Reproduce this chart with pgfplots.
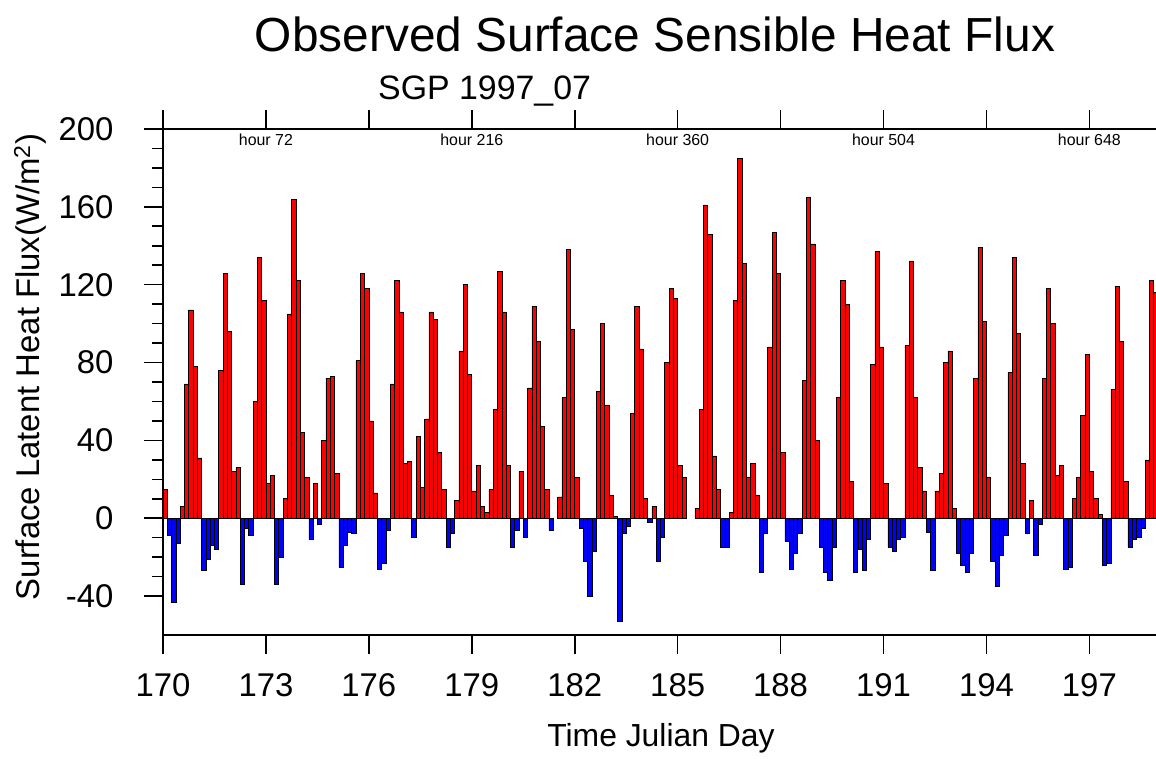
\documentclass[border=0pt]{standalone}
\usepackage{pgfplots}
\usepackage{pgfplotstable}
\pgfplotsset{compat=1.18}
\usepackage{fontspec}
\setmainfont{Liberation Sans}

% k = 3-hourly index from Julian day 170 hour 0, v = flux (W/m2)
\pgfplotstableread[row sep=\\]{
k v\\
0 15\\ 1 -9\\ 2 -43\\ 3 -13\\ 4 6\\ 5 69\\ 6 107\\ 7 78\\
8 31\\ 9 -27\\ 10 -21\\ 11 -14\\ 12 -16\\ 13 76\\ 14 126\\ 15 96\\
16 24\\ 17 26\\ 18 -34\\ 19 -5\\ 20 -9\\ 21 60\\ 22 134\\ 23 112\\
24 18\\ 25 22\\ 26 -34\\ 27 -20\\ 28 10\\ 29 105\\ 30 164\\ 31 122\\
32 44\\ 33 21\\ 34 -11\\ 35 18\\ 36 -3\\ 37 40\\ 38 72\\ 39 73\\
40 23\\ 41 -25\\ 42 -14\\ 43 -7\\ 44 -8\\ 45 81\\ 46 126\\ 47 118\\
48 50\\ 49 13\\ 50 -26\\ 51 -23\\ 52 -6\\ 53 69\\ 54 122\\ 55 106\\
56 28\\ 57 29\\ 58 -10\\ 59 42\\ 60 16\\ 61 51\\ 62 106\\ 63 102\\
64 34\\ 65 15\\ 66 -15\\ 67 -8\\ 68 9\\ 69 86\\ 70 120\\ 71 74\\
72 14\\ 73 27\\ 74 6\\ 75 3\\ 76 15\\ 77 56\\ 78 127\\ 79 106\\
80 27\\ 81 -15\\ 82 -6\\ 83 24\\ 84 -10\\ 85 67\\ 86 109\\ 87 91\\
88 47\\ 89 15\\ 90 -6\\ 91 0\\ 92 11\\ 93 62\\ 94 138\\ 95 97\\
96 21\\ 97 -5\\ 98 -22\\ 99 -40\\ 100 -17\\ 101 65\\ 102 100\\ 103 58\\
104 12\\ 105 1\\ 106 -53\\ 107 -8\\ 108 -4\\ 109 54\\ 110 109\\ 111 87\\
112 10\\ 113 -2\\ 114 6\\ 115 -22\\ 116 -10\\ 117 80\\ 118 118\\ 119 113\\
120 27\\ 121 21\\ 122 0\\ 123 0\\ 124 5\\ 125 56\\ 126 161\\ 127 146\\
128 32\\ 129 15\\ 130 -15\\ 131 -15\\ 132 3\\ 133 112\\ 134 185\\ 135 131\\
136 21\\ 137 28\\ 138 12\\ 139 -28\\ 140 -8\\ 141 88\\ 142 147\\ 143 126\\
144 34\\ 145 -12\\ 146 -26\\ 147 -18\\ 148 -8\\ 149 71\\ 150 165\\ 151 141\\
152 40\\ 153 -15\\ 154 -28\\ 155 -32\\ 156 -15\\ 157 62\\ 158 122\\ 159 110\\
160 19\\ 161 -28\\ 162 -16\\ 163 -27\\ 164 -11\\ 165 79\\ 166 137\\ 167 88\\
168 18\\ 169 -15\\ 170 -17\\ 171 -11\\ 172 -10\\ 173 89\\ 174 132\\ 175 62\\
176 26\\ 177 14\\ 178 -7\\ 179 -27\\ 180 14\\ 181 23\\ 182 80\\ 183 86\\
184 5\\ 185 -18\\ 186 -24\\ 187 -28\\ 188 -18\\ 189 72\\ 190 139\\ 191 101\\
192 21\\ 193 -22\\ 194 -35\\ 195 -19\\ 196 -9\\ 197 75\\ 198 134\\ 199 95\\
200 28\\ 201 -8\\ 202 9\\ 203 -19\\ 204 -3\\ 205 72\\ 206 118\\ 207 100\\
208 22\\ 209 27\\ 210 -26\\ 211 -25\\ 212 10\\ 213 21\\ 214 53\\ 215 84\\
216 24\\ 217 10\\ 218 2\\ 219 -24\\ 220 -23\\ 221 66\\ 222 119\\ 223 91\\
224 19\\ 225 -15\\ 226 -11\\ 227 -10\\ 228 -5\\ 229 30\\ 230 122\\ 231 116\\
}\flux

\begin{document}
\begin{tikzpicture}[x=1bp,y=1bp]
\path[use as bounding box] (-163,-124) rectangle (993,635);
\begin{axis}[
  at={(0,0)}, anchor=south west,
  scale only axis, width=995bp, height=506bp,
  xmin=170, xmax=199, ymin=-60, ymax=200,
  xtick={170,173,...,197},
  ytick={-40,0,40,80,120,160,200},
  minor y tick num=3,
  tick align=outside,
  xtick pos=both, ytick pos=left,
  major tick length=19bp, minor tick length=11bp,
  axis line style={line width=1.6bp},
  tick style={line width=1.6bp, black},
  /pgf/number format/assume math mode=true,
  /pgf/number format/1000 sep={},
  ticklabel style={font=\fontsize{33}{33}\selectfont},
  yticklabel style={xshift=-27bp},
  xticklabel style={yshift=-16bp},
  xticklabel pos=bottom,
]
\addplot[ybar, bar width=0.125, bar shift=0pt, fill=red, draw=black, line width=0.6bp,
  restrict y to domain=0.01:300]
  table[x expr={170+(\thisrow{k}+0.5)/8}, y=v] {\flux};
\addplot[ybar, bar width=0.125, bar shift=0pt, fill=blue, draw=black, line width=0.6bp,
  restrict y to domain=-300:-0.01]
  table[x expr={170+(\thisrow{k}+0.5)/8}, y=v] {\flux};
\node[font=\fontsize{16}{16}\selectfont] at (axis cs:173,194.3) {hour 72};
\node[font=\fontsize{16}{16}\selectfont] at (axis cs:179,194.3) {hour 216};
\node[font=\fontsize{16}{16}\selectfont] at (axis cs:185,194.3) {hour 360};
\node[font=\fontsize{16}{16}\selectfont] at (axis cs:191,194.3) {hour 504};
\node[font=\fontsize{16}{16}\selectfont] at (axis cs:197,194.3) {hour 648};
\end{axis}
\node[anchor=base, font=\fontsize{48}{48}\selectfont] at (492,583) {Observed Surface Sensible Heat Flux};
\node[anchor=base west, inner sep=0pt, font=\fontsize{34}{34}\selectfont] at (215,535) {SGP 1997\_07};
\node[rotate=90, font=\fontsize{33}{33}\selectfont] at (-133,268) {Surface Latent Heat Flux(W/m$^{\mathrm{2}}$)};
\node[anchor=base, font=\fontsize{32}{32}\selectfont] at (498,-112) {Time Julian Day};
\end{tikzpicture}
\end{document}
